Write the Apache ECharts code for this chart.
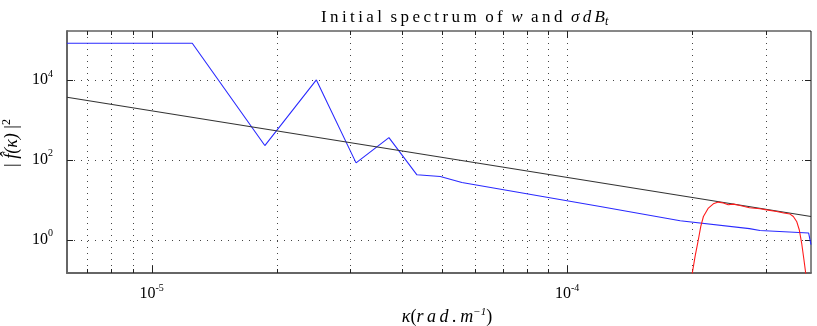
<!DOCTYPE html>
<html>
<head>
<meta charset="utf-8">
<script src="https://cdn.jsdelivr.net/npm/echarts@6/dist/echarts.min.js"></script>
<style>html,body{margin:0;padding:0;background:#fff;}#c{width:817px;height:326px;}</style>
</head>
<body>
<div id="c"></div>
<script>
// ---- data ----
const blueK   = [6.26e-6, 1.253e-5, 1.873e-5, 2.492e-5, 3.105e-5, 3.725e-5, 4.35e-5, 4.95e-5, 5.58e-5, 1.2e-4, 1.87e-4, 2.745e-4, 2.91e-4, 3.81e-4, 3.86e-4];
const blueVal = [8.27e4, 8.27e4, 228, 1.0e4, 84, 361, 42.2, 38.2, 27.1, 6.8, 3.0, 1.9, 1.71, 1.47, 0.75];

const blackK   = [6.26e-6, 3.86e-4];
const blackVal = [3694, 3.82];

const redK   = [1.95e-4, 2.0e-4, 2.031e-4, 2.068e-4, 2.096e-4, 2.127e-4, 2.186e-4, 2.247e-4, 2.31e-4, 2.375e-4, 2.44e-4, 2.51e-4, 2.606e-4, 2.745e-4, 2.91e-4, 3.02e-4, 3.19e-4, 3.32e-4, 3.437e-4, 3.5e-4, 3.565e-4, 3.617e-4, 3.665e-4, 3.712e-4, 3.748e-4, 3.775e-4];
const redVal = [0.0316, 0.147, 0.382, 1.0, 2.15, 3.82, 6.2, 7.94, 8.76, 8.27, 7.5, 7.8, 7.2, 6.31, 5.96, 5.59, 5.1, 4.68, 4.39, 3.82, 2.87, 1.78, 0.827, 0.316, 0.147, 0.0316];

const xTickValues = [1e-5, 1e-4];
const yTickValues = [1, 100, 10000];
const xGridValues = [7e-6, 8e-6, 9e-6, 1e-5, 2e-5, 3e-5, 4e-5, 5e-5, 6e-5, 7e-5, 8e-5, 9e-5, 1e-4, 2e-4, 3e-4];
const yGridValues = [1, 100, 10000];

const xMin = 6.26e-6, xMax = 3.86e-4, yMin = 0.147, yMax = 1.68e5;

const FONT = 'Liberation Serif';
const TS = '\u2009';
const sp = s => s.split('').join(TS);
const WG = '  ';
const zip = (a, b) => a.map((v, i) => [v, b[i]]);
const isPow = (v, list) => list.some(t => Math.abs(Math.log10(v) - Math.log10(t)) < 1e-6);
const expLabel = (v, list) => isPow(v, list) ? '{b|10}{s|' + Math.round(Math.log10(v)) + '}' : '';
const richLab = {
  b: {fontFamily: FONT, fontSize: 16, color: '#000'},
  s: {fontFamily: FONT, fontSize: 10, color: '#000', padding: [0, 0, 12, 0]}
};

const chart = echarts.init(document.getElementById('c'), null, {renderer: 'canvas'});

const option = {
  animation: false,
  backgroundColor: '#fff',
  title: {
    text: '{n|' + sp('Initial') + WG + sp('spectrum') + WG + sp('of') + WG + '}{i|w}{n|' + WG + sp('and') + WG + '}{i|' + sp('σdB') + '}{sub|t}',
    left: 316,
    top: 3,
    textStyle: {
      fontWeight: 'normal',
      rich: {
        n: {fontFamily: FONT, fontSize: 17, fontWeight: 'normal', color: '#000'},
        i: {fontFamily: FONT, fontSize: 17, fontWeight: 'normal', fontStyle: 'italic', color: '#000'},
        sub: {fontFamily: FONT, fontSize: 12, fontWeight: 'normal', fontStyle: 'italic', color: '#000', padding: [8, 0, 0, 0]}
      }
    }
  },
  grid: {left: 67, right: 6, top: 31, bottom: 53, outerBoundsMode: 'none', containLabel: false,
         show: true, borderColor: '#111', borderWidth: 1, backgroundColor: 'transparent'},
  xAxis: {
    type: 'log', logBase: 10, min: xMin, max: xMax,
    name: '{i|κ}{n|(}{i|' + sp('rad.m') + '}{s|−1}{n|)}',
    nameLocation: 'middle', nameGap: 34,
    nameTextStyle: {
      padding: [0, 0, 0, 16],
      rich: {
        i: {fontFamily: FONT, fontSize: 18, fontStyle: 'italic', color: '#000'},
        n: {fontFamily: FONT, fontSize: 18, color: '#000'},
        s: {fontFamily: FONT, fontSize: 11, fontStyle: 'italic', color: '#000', padding: [0, 0, 10, 0]}
      }
    },
    axisLine: {show: true, lineStyle: {color: '#666', width: 2}},
    axisTick: {show: false},
    splitLine: {show: false},
    minorTick: {show: false},
    axisLabel: {
      margin: 10, showMinLabel: false, showMaxLabel: false,
      formatter: v => expLabel(v, xTickValues),
      rich: richLab
    }
  },
  yAxis: {
    type: 'log', logBase: 10, min: yMin, max: yMax,
    name: '{n|| }{i|f̂(κ)}{n| |}{s|2}',
    nameLocation: 'middle', nameGap: 37, nameRotate: 90,
    nameTextStyle: {
      padding: [0, 0, 0, 18],
      rich: {
        i: {fontFamily: FONT, fontSize: 18, fontStyle: 'italic', color: '#000'},
        n: {fontFamily: FONT, fontSize: 18, color: '#000'},
        s: {fontFamily: FONT, fontSize: 12, color: '#000', padding: [0, 0, 11, 0]}
      }
    },
    axisLine: {show: true, lineStyle: {color: '#666', width: 2}},
    axisTick: {show: false},
    splitLine: {show: false},
    minorTick: {show: false},
    axisLabel: {
      margin: 14, showMinLabel: false, showMaxLabel: false,
      formatter: v => expLabel(v, yTickValues),
      rich: richLab
    }
  },
  series: [
    {
      type: 'custom', silent: true, z: 1, clip: false,
      data: xGridValues.map(v => [v, yMin]),
      encode: {x: 0, y: 1},
      renderItem: function (params, api) {
        const cs = params.coordSys;
        const v = api.value(0);
        const x = Math.round(api.coord([v, yMin])[0]) + 0.5;
        const tl = isPow(v, xTickValues) ? 7 : 4;
        return {type: 'group', children: [
          {type: 'line', shape: {x1: x, y1: cs.y, x2: x, y2: cs.y + cs.height}, style: {stroke: '#444', lineWidth: 1, lineDash: [1, 5]}},
          {type: 'line', shape: {x1: x, y1: cs.y + cs.height, x2: x, y2: cs.y + cs.height - tl}, style: {stroke: '#222', lineWidth: 1}},
          {type: 'line', shape: {x1: x, y1: cs.y, x2: x, y2: cs.y + tl}, style: {stroke: '#222', lineWidth: 1}}
        ]};
      }
    },
    {
      type: 'custom', silent: true, z: 1, clip: false,
      data: yGridValues.map(v => [xMin, v]),
      encode: {x: 0, y: 1},
      renderItem: function (params, api) {
        const cs = params.coordSys;
        const v = api.value(1);
        const y = Math.round(api.coord([xMin, v])[1]) + 0.5;
        const tl = 6;
        return {type: 'group', children: [
          {type: 'line', shape: {x1: cs.x, y1: y, x2: cs.x + cs.width, y2: y}, style: {stroke: '#444', lineWidth: 1, lineDash: [1, 6]}},
          {type: 'line', shape: {x1: cs.x, y1: y, x2: cs.x + tl, y2: y}, style: {stroke: '#222', lineWidth: 1}},
          {type: 'line', shape: {x1: cs.x + cs.width, y1: y, x2: cs.x + cs.width - tl, y2: y}, style: {stroke: '#222', lineWidth: 1}}
        ]};
      }
    },
    {
      name: 'w', type: 'line', data: zip(blueK, blueVal), showSymbol: false, symbol: 'none', z: 3,
      lineStyle: {color: '#2a2aff', width: 1.1}, clip: true
    },
    {
      name: 'ref', type: 'line', data: zip(blackK, blackVal), showSymbol: false, symbol: 'none', z: 3,
      lineStyle: {color: '#333', width: 1.1}, clip: true
    },
    {
      name: 'sigma', type: 'line', data: zip(redK, redVal), showSymbol: false, symbol: 'none', z: 4,
      lineStyle: {color: '#ff1a1a', width: 1.1}, clip: true
    }
  ]
};
chart.setOption(option);
</script>
</body>
</html>
